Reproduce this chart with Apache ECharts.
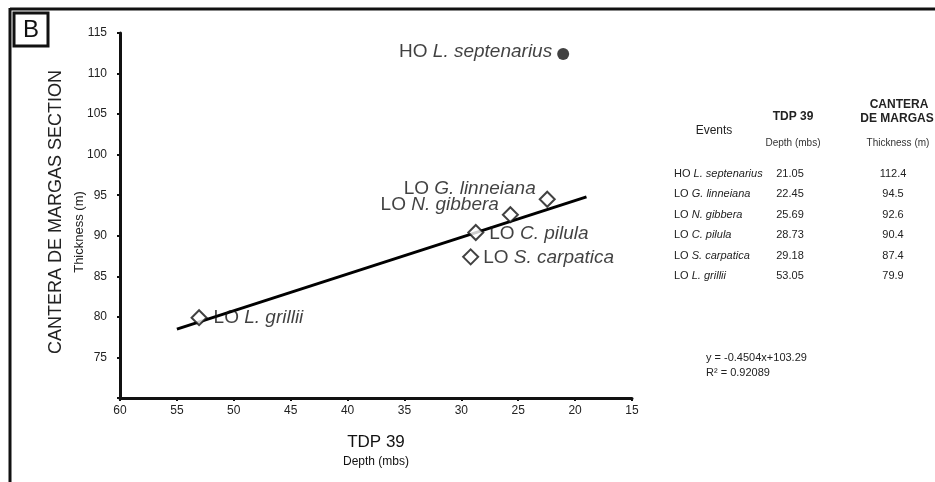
<!DOCTYPE html>
<html><head><meta charset="utf-8">
<script src="https://cdn.jsdelivr.net/npm/echarts@6/dist/echarts.min.js"></script>
<style>html,body{margin:0;padding:0;background:#fff}#c{width:935px;height:482px}</style>
</head><body><div id="c"></div>
<script>
// ---- data ----
var eventPrefix = ['HO', 'LO', 'LO', 'LO', 'LO', 'LO'];
var eventTaxa = ['L. septenarius', 'G. linneiana', 'N. gibbera', 'C. pilula', 'S. carpatica', 'L. grillii'];
var depthTDP39 = [21.05, 22.45, 25.69, 28.73, 29.18, 53.05];
var thicknessCM = [112.4, 94.5, 92.6, 90.4, 87.4, 79.9];
var labelSide = ['left', 'left', 'left', 'right', 'right', 'right'];
var trendX = [55, 19];
var trendY = [78.5, 94.8];
var equationText = 'y = -0.4504x+103.29';
var r2Text = 'R\u00B2 = 0.92089';
var xTicks = [60, 55, 50, 45, 40, 35, 30, 25, 20, 15];
var yTicks = [75, 80, 85, 90, 95, 100, 105, 110, 115];

var FONT = '"Liberation Sans", Arial, sans-serif';
var chart = echarts.init(document.getElementById('c'));

var rich = {
  n: {fontFamily: FONT, fontSize: 19, color: '#111'},
  i: {fontFamily: FONT, fontSize: 19, color: '#111', fontStyle: 'italic'}
};

var labelOffsets = [[0, -2], [2, -11], [2, -10], [0, 1], [-1, 1], [1, 0]];

var hoData = [], loData = [];
for (var k = 0; k < depthTDP39.length; k++) {
  var item = {
    value: [depthTDP39[k], thicknessCM[k]],
    label: {
      show: true,
      position: labelSide[k],
      distance: 5,
      offset: labelOffsets[k],
      formatter: '{n|' + eventPrefix[k] + ' }{i|' + eventTaxa[k] + '}',
      rich: rich
    }
  };
  if (eventPrefix[k] === 'HO') hoData.push(item); else loData.push(item);
}

// ---- frame, titles, table (built from arrays) ----
var graphics = [];
graphics.push({type: 'line', shape: {x1: 10, y1: 9, x2: 935, y2: 9}, style: {stroke: '#111', lineWidth: 3}});
graphics.push({type: 'line', shape: {x1: 10, y1: 8, x2: 10, y2: 482}, style: {stroke: '#111', lineWidth: 3}});
graphics.push({type: 'rect', shape: {x: 14, y: 13, width: 34, height: 33}, style: {fill: '#fff', stroke: '#111', lineWidth: 3}});
graphics.push({type: 'text', x: 31, y: 30, style: {text: 'B', font: '24px ' + FONT, fill: '#111', textAlign: 'center', textVerticalAlign: 'middle'}});
graphics.push({type: 'text', x: 56, y: 212, rotation: Math.PI / 2, style: {text: 'CANTERA DE MARGAS SECTION', font: '18px ' + FONT, fill: '#222', textAlign: 'center', textVerticalAlign: 'middle'}});
graphics.push({type: 'text', x: 79, y: 232, rotation: Math.PI / 2, style: {text: 'Thickness (m)', font: '13px ' + FONT, fill: '#222', textAlign: 'center', textVerticalAlign: 'middle'}});
graphics.push({type: 'text', x: 376, y: 442, style: {text: 'TDP 39', font: '17px ' + FONT, fill: '#111', textAlign: 'center', textVerticalAlign: 'middle'}});
graphics.push({type: 'text', x: 376, y: 462, style: {text: 'Depth (mbs)', font: '12px ' + FONT, fill: '#111', textAlign: 'center', textVerticalAlign: 'middle'}});
graphics.push({type: 'text', x: 714, y: 131, style: {text: 'Events', font: '12px ' + FONT, fill: '#222', textAlign: 'center', textVerticalAlign: 'middle'}});
graphics.push({type: 'text', x: 793, y: 117, style: {text: 'TDP 39', font: 'bold 12px ' + FONT, fill: '#222', textAlign: 'center', textVerticalAlign: 'middle'}});
graphics.push({type: 'text', x: 899, y: 105, style: {text: 'CANTERA', font: 'bold 12px ' + FONT, fill: '#222', textAlign: 'center', textVerticalAlign: 'middle'}});
graphics.push({type: 'text', x: 897, y: 119, style: {text: 'DE MARGAS', font: 'bold 12px ' + FONT, fill: '#222', textAlign: 'center', textVerticalAlign: 'middle'}});
graphics.push({type: 'text', x: 793, y: 143, style: {text: 'Depth (mbs)', font: '10px ' + FONT, fill: '#333', textAlign: 'center', textVerticalAlign: 'middle'}});
graphics.push({type: 'text', x: 898, y: 143, style: {text: 'Thickness (m)', font: '10px ' + FONT, fill: '#333', textAlign: 'center', textVerticalAlign: 'middle'}});
for (var r = 0; r < eventTaxa.length; r++) {
  var yy = 174 + r * 20.4;
  graphics.push({type: 'text', x: 674, y: yy, style: {
    text: '{n|' + eventPrefix[r] + ' }{i|' + eventTaxa[r] + '}',
    rich: {n: {font: '11px ' + FONT, fill: '#222'}, i: {font: 'italic 11px ' + FONT, fill: '#222'}},
    textAlign: 'left', textVerticalAlign: 'middle'}});
  graphics.push({type: 'text', x: 790, y: yy, style: {text: depthTDP39[r].toFixed(2), font: '11px ' + FONT, fill: '#222', textAlign: 'center', textVerticalAlign: 'middle'}});
  graphics.push({type: 'text', x: 893, y: yy, style: {text: thicknessCM[r].toFixed(1), font: '11px ' + FONT, fill: '#222', textAlign: 'center', textVerticalAlign: 'middle'}});
}
graphics.push({type: 'text', x: 706, y: 358, style: {text: equationText, font: '11px ' + FONT, fill: '#222', textAlign: 'left', textVerticalAlign: 'middle'}});
graphics.push({type: 'text', x: 706, y: 373, style: {text: r2Text, font: '11px ' + FONT, fill: '#222', textAlign: 'left', textVerticalAlign: 'middle'}});

var trendData = [];
for (var t = 0; t < trendX.length; t++) trendData.push([trendX[t], trendY[t]]);

chart.setOption({
  animation: false,
  backgroundColor: '#fff',
  grid: {left: 120, right: 303, top: 33, bottom: 84, containLabel: false},
  xAxis: {
    type: 'value', min: 15, max: 60, interval: 5, inverse: true,
    axisLine: {lineStyle: {color: '#111', width: 3}},
    axisTick: {show: true, length: 3, lineStyle: {color: '#111', width: 2}},
    axisLabel: {fontFamily: FONT, fontSize: 12, color: '#222', margin: 7,
      formatter: function (v) { return xTicks.indexOf(v) >= 0 ? String(v) : ''; }},
    splitLine: {show: false}
  },
  yAxis: {
    type: 'value', min: 70, max: 115, interval: 5,
    axisLine: {show: true, lineStyle: {color: '#111', width: 3}},
    axisTick: {show: true, length: 3, lineStyle: {color: '#111', width: 2}},
    axisLabel: {fontFamily: FONT, fontSize: 12, color: '#222', margin: 13,
      formatter: function (v) { return yTicks.indexOf(v) >= 0 ? String(v) : ''; }},
    splitLine: {show: false}
  },
  series: [
    {type: 'line', data: trendData, symbol: 'none', lineStyle: {color: '#000', width: 3}, z: 1, silent: true},
    {type: 'scatter', data: loData, symbol: 'diamond', symbolSize: 15,
      itemStyle: {color: '#fff', borderColor: '#111', borderWidth: 2}, z: 3},
    {type: 'scatter', data: hoData, symbol: 'circle', symbolSize: 12,
      itemStyle: {color: '#111'}, z: 3}
  ],
  graphic: graphics
});
</script>
</body></html>
